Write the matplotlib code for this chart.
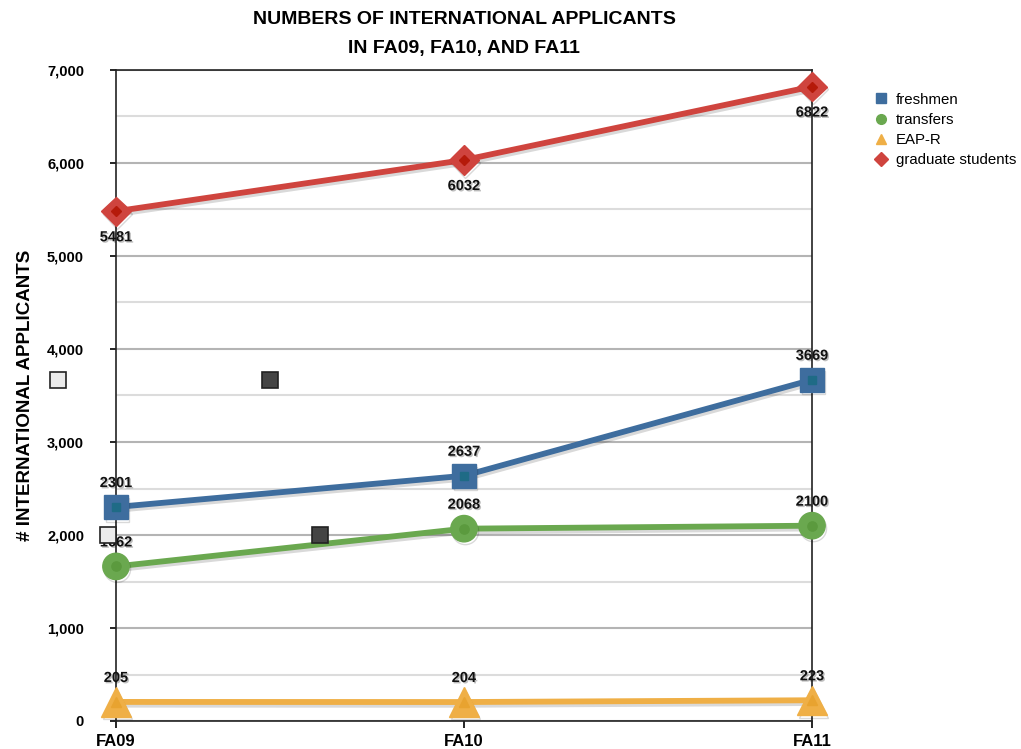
import matplotlib
matplotlib.use("Agg")
import matplotlib.pyplot as plt
import matplotlib.patheffects as pe
from matplotlib.patches import Rectangle
from matplotlib.lines import Line2D
from matplotlib.ticker import FuncFormatter, MultipleLocator

categories = ["FA09", "FA10", "FA11"]
freshmen = [2301, 2637, 3669]
transfers = [1662, 2068, 2100]
eap_r = [205, 204, 223]
graduate = [5481, 6032, 6822]

SANS = ["Liberation Sans", "DejaVu Sans"]

fig = plt.figure(figsize=(10.21, 7.49), dpi=100)
ax = fig.add_axes([116/1021, 28/749, 696/1021, 651/749])

x = list(range(len(categories)))
ax.set_xlim(0, 2)
ax.set_ylim(0, 7000)

ax.yaxis.set_major_locator(MultipleLocator(1000))
ax.yaxis.set_minor_locator(MultipleLocator(500))
ax.grid(True, which="major", axis="y", color="#b4b4b4", lw=1.5, zorder=0)
ax.grid(True, which="minor", axis="y", color="#dcdcdc", lw=1.5, zorder=0)
ax.set_axisbelow(True)

line_shadow = [pe.SimpleLineShadow(offset=(1, -2), shadow_color="black", alpha=0.15), pe.Normal()]
text_shadow = [pe.withSimplePatchShadow(offset=(1, -1), shadow_rgbFace="black", alpha=0.25)]

series = [
    ("freshmen", freshmen, "#3e6d9e", "s", 17, "#1f6b86", "above"),
    ("transfers", transfers, "#6aa84f", "o", 19, "#5b9a3e", "above"),
    ("EAP-R", eap_r, "#efaf46", "^", 21, "#e8a330", "above"),
    ("graduate students", graduate, "#cf443e", "D", 15, "#b51a0a", "below"),
]

for name, vals, col, mk, ms, inner, pos in series:
    ax.plot(x, vals, color=col, lw=4.2, marker=mk, ms=ms, mfc=col, mec=col,
            zorder=3, path_effects=line_shadow, solid_capstyle="round", clip_on=False)
    ax.plot(x, vals, ls="none", marker=mk, ms=ms*0.35, mfc=inner, mec=inner, zorder=4,
            clip_on=False)
    for xi, v in zip(x, vals):
        dy = 24 if pos == "above" else -26
        ax.annotate(str(v), (xi, v), xytext=(0, dy), textcoords="offset pixels",
                    ha="center", va="center", fontsize=10.5, fontweight="bold",
                    family=SANS, color="#111111", zorder=6, path_effects=text_shadow,
                    annotation_clip=False)

handles = [Line2D([], [], ls="none", marker=mk, ms=7, mfc=col, mec=col)
           for name, vals, col, mk, ms, inner, pos in series]
labels = [s[0] for s in series]
fig.legend(handles, labels, loc="upper left", bbox_to_anchor=(858/1021, 1 - 79/749),
           frameon=False, prop={"family": SANS, "size": 10.8},
           handletextpad=0.4, labelspacing=0.42, handlelength=1.2)

for s in ["left", "top", "right", "bottom"]:
    ax.spines[s].set_color("#222222")
    ax.spines[s].set_linewidth(1.2)

ax.set_xticks(x)
ax.set_xticklabels(categories, fontsize=12, fontweight="bold", family=SANS)
ax.tick_params(axis="x", length=5, width=1.2, direction="out", pad=4)
ax.tick_params(axis="y", which="major", length=4, width=1.2, direction="out", pad=19)
ax.tick_params(axis="y", which="minor", length=0)
ax.yaxis.set_major_formatter(FuncFormatter(lambda v, p: f"{int(v):,}"))
for lab in ax.get_yticklabels():
    lab.set_fontsize(10.5)
    lab.set_fontweight("bold")
    lab.set_family(SANS)

ax.set_ylabel("# INTERNATIONAL APPLICANTS", fontsize=13.5, fontweight="bold", family=SANS)
ax.yaxis.set_label_coords(-82/696, 0.5)

fig.text(464/1021, 1 - 20/749, "NUMBERS OF INTERNATIONAL APPLICANTS", ha="center", va="center",
         fontsize=14, fontweight="bold", family=SANS)
fig.text(464/1021, 1 - 48/749, "IN FA09, FA10, AND FA11", ha="center", va="center",
         fontsize=14, fontweight="bold", family=SANS)

# stray selection handles visible in the source image
handles_px = [(58, 380, "#ebebeb"), (270, 380, "#444444"), (108, 535, "#ebebeb"), (320, 535, "#444444")]
for hx, hy, hc in handles_px:
    w = 16
    fig.patches.append(Rectangle(((hx - w/2)/1021, 1 - (hy + w/2)/749), w/1021, w/749,
                                 transform=fig.transFigure, facecolor=hc, edgecolor="#222222",
                                 lw=1.2, zorder=10))

fig.savefig("out.png", dpi=100)
